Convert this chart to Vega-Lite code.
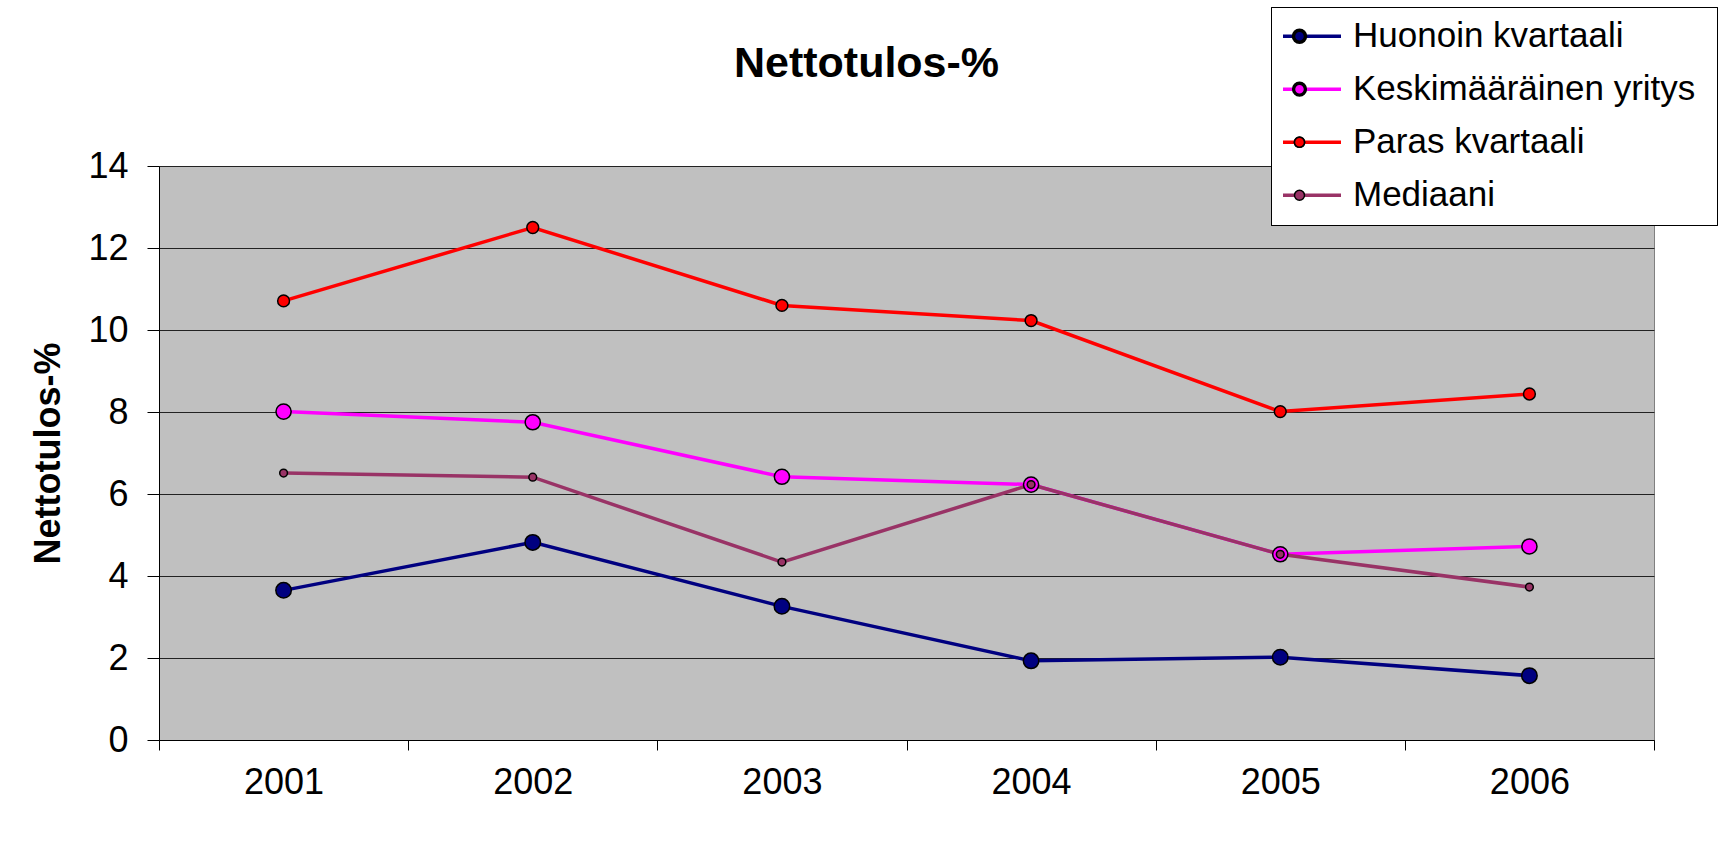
{
  "$schema": "https://vega.github.io/schema/vega-lite/v6.json",
  "width": 1495,
  "height": 574,
  "autosize": "none",
  "padding": {"left": 159, "top": 166, "right": 65, "bottom": 115},
  "background": "white",
  "config": {
    "font": "Liberation Sans",
    "view": {"fill": "#C0C0C0", "stroke": "#808080", "strokeWidth": 1}
  },
  "title": {
    "text": "Nettotulos-%",
    "font": "Liberation Sans",
    "fontSize": 43,
    "fontWeight": "bold",
    "color": "black",
    "anchor": "middle",
    "frame": "group",
    "dx": -40,
    "dy": 83
  },
  "data": {
    "values": [
      {"vuosi": "2001", "sarja": "Huonoin kvartaali", "arvo": 3.65},
      {"vuosi": "2002", "sarja": "Huonoin kvartaali", "arvo": 4.82},
      {"vuosi": "2003", "sarja": "Huonoin kvartaali", "arvo": 3.26},
      {"vuosi": "2004", "sarja": "Huonoin kvartaali", "arvo": 1.93},
      {"vuosi": "2005", "sarja": "Huonoin kvartaali", "arvo": 2.02},
      {"vuosi": "2006", "sarja": "Huonoin kvartaali", "arvo": 1.57},
      {"vuosi": "2001", "sarja": "Keskimääräinen yritys", "arvo": 8.01},
      {"vuosi": "2002", "sarja": "Keskimääräinen yritys", "arvo": 7.75},
      {"vuosi": "2003", "sarja": "Keskimääräinen yritys", "arvo": 6.42},
      {"vuosi": "2004", "sarja": "Keskimääräinen yritys", "arvo": 6.23},
      {"vuosi": "2005", "sarja": "Keskimääräinen yritys", "arvo": 4.53},
      {"vuosi": "2006", "sarja": "Keskimääräinen yritys", "arvo": 4.72},
      {"vuosi": "2001", "sarja": "Paras kvartaali", "arvo": 10.71},
      {"vuosi": "2002", "sarja": "Paras kvartaali", "arvo": 12.5},
      {"vuosi": "2003", "sarja": "Paras kvartaali", "arvo": 10.6},
      {"vuosi": "2004", "sarja": "Paras kvartaali", "arvo": 10.23},
      {"vuosi": "2005", "sarja": "Paras kvartaali", "arvo": 8.01},
      {"vuosi": "2006", "sarja": "Paras kvartaali", "arvo": 8.44},
      {"vuosi": "2001", "sarja": "Mediaani", "arvo": 6.51},
      {"vuosi": "2002", "sarja": "Mediaani", "arvo": 6.41},
      {"vuosi": "2003", "sarja": "Mediaani", "arvo": 4.34},
      {"vuosi": "2004", "sarja": "Mediaani", "arvo": 6.23},
      {"vuosi": "2005", "sarja": "Mediaani", "arvo": 4.53},
      {"vuosi": "2006", "sarja": "Mediaani", "arvo": 3.73}
    ]
  },
  "encoding": {
    "x": {
      "field": "vuosi",
      "type": "ordinal",
      "scale": {"paddingInner": 0, "paddingOuter": 0},
      "axis": {
        "title": null,
        "labelAngle": 0,
        "labelFontSize": 36,
        "labelFont": "Liberation Sans",
        "labelColor": "black",
        "tickBand": "extent",
        "tickSize": 10,
        "tickColor": "black",
        "domainColor": "black",
        "grid": false,
        "labelPadding": 15
      }
    },
    "y": {
      "field": "arvo",
      "type": "quantitative",
      "scale": {"domain": [0, 14], "nice": false},
      "axis": {
        "title": "Nettotulos-%",
        "titleFont": "Liberation Sans",
        "titleFontSize": 36,
        "titleFontWeight": "bold",
        "titleColor": "black",
        "titleAngle": 270,
        "titleX": -111,
        "titleY": 287,
        "titleAlign": "center",
        "titleBaseline": "middle",
        "values": [0, 2, 4, 6, 8, 10, 12, 14],
        "labelFontSize": 36,
        "labelFont": "Liberation Sans",
        "labelColor": "black",
        "tickSize": 12,
        "tickColor": "black",
        "labelPadding": 19,
        "domainColor": "black",
        "grid": true,
        "gridColor": "#222222",
        "gridWidth": 1
      }
    }
  },
  "layer": [
    {
      "mark": {"type": "line", "strokeWidth": 3.5},
      "encoding": {
        "stroke": {
          "field": "sarja",
          "type": "nominal",
          "scale": {
            "domain": ["Huonoin kvartaali", "Keskimääräinen yritys", "Paras kvartaali", "Mediaani"],
            "range": ["#000080", "#FF00FF", "#FF0000", "#993366"]
          },
          "legend": {
            "orient": "none",
            "legendX": 1112,
            "legendY": -159,
            "title": null,
            "symbolType": "stroke",
            "symbolSize": 3364,
            "symbolStrokeWidth": 3.5,
            "labelFontSize": 35,
            "labelFont": "Liberation Sans",
            "labelColor": "black",
            "labelOffset": 10,
            "labelLimit": 600,
            "padding": 3,
            "symbolOffset": 7,
            "clipHeight": 52.4,
            "rowPadding": 0,
            "fillColor": "white",
            "zindex": 1
          }
        }
      }
    },
    {
      "mark": {"type": "point", "shape": "circle", "filled": true, "stroke": "black", "strokeWidth": 1.5, "opacity": 1},
      "encoding": {
        "fill": {
          "field": "sarja",
          "type": "nominal",
          "sort": ["Huonoin kvartaali", "Keskimääräinen yritys", "Paras kvartaali", "Mediaani"],
          "scale": {"range": ["#000080", "#FF00FF", "#FF0000", "#993366"]},
          "legend": {
            "orient": "none",
            "legendX": 1112,
            "legendY": -159,
            "title": null,
            "symbolType": "circle",
            "symbolStrokeColor": "black",
            "symbolStrokeWidth": 1.5,
            "labelExpr": "' '",
            "labelFontSize": 35,
            "labelFont": "Liberation Sans",
            "labelOffset": 397,
            "labelLimit": 600,
            "padding": 3,
            "symbolOffset": 8,
            "clipHeight": 52.4,
            "rowPadding": 0,
            "strokeColor": "black",
            "zindex": 2
          }
        },
        "size": {
          "field": "sarja",
          "type": "nominal",
          "sort": ["Huonoin kvartaali", "Keskimääräinen yritys", "Paras kvartaali", "Mediaani"],
          "scale": {"type": "ordinal", "range": [240, 230, 140, 60]},
          "legend": {
            "orient": "none",
            "legendX": 1112,
            "legendY": -159,
            "title": null,
            "symbolType": "circle",
            "symbolStrokeColor": "black",
            "symbolStrokeWidth": 1.5,
            "labelExpr": "' '",
            "labelFontSize": 35,
            "labelFont": "Liberation Sans",
            "labelOffset": 397,
            "labelLimit": 600,
            "padding": 3,
            "symbolOffset": 8,
            "clipHeight": 52.4,
            "rowPadding": 0,
            "strokeColor": "black",
            "zindex": 2
          }
        }
      }
    }
  ]
}
